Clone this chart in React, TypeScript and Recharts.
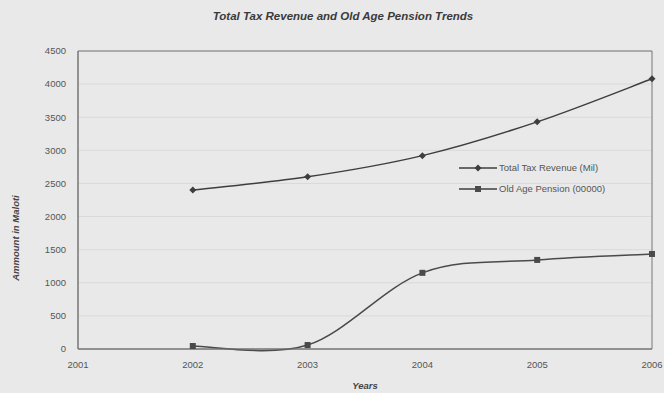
import React from "react";
import {
  LineChart,
  Line,
  XAxis,
  YAxis,
  CartesianGrid,
  Legend,
  Label,
  ReferenceArea,
} from "recharts";

// values
const years = [2002, 2003, 2004, 2005, 2006];
const taxRevenue = [2400, 2600, 2920, 3430, 4080];
const oldAgePension = [45, 60, 1150, 1345, 1435];

const xTicks = [2001, 2002, 2003, 2004, 2005, 2006];
const yTicks = [0, 500, 1000, 1500, 2000, 2500, 3000, 3500, 4000, 4500];

const taxName = "Total Tax  Revenue (Mil)";
const pensionName = "Old Age Pension (00000)";

const data = years.map((year, i) => ({
  year,
  tax: taxRevenue[i],
  pension: oldAgePension[i],
}));

const FONT = '"Liberation Sans", Arial, sans-serif';
const LINE_COLOR = "#3e3e3e";

// spreadsheet-style smoothed line (catmull-rom through the points)
const smoothCurve = (context: any) => {
  let pts: number[][] = [];
  return {
    areaStart() {},
    areaEnd() {},
    lineStart() {
      pts = [];
    },
    point(x: number, y: number) {
      pts.push([+x, +y]);
    },
    lineEnd() {
      if (!pts.length) return;
      context.moveTo(pts[0][0], pts[0][1]);
      for (let i = 0; i < pts.length - 1; i++) {
        const p0 = pts[i - 1] || pts[i];
        const p1 = pts[i];
        const p2 = pts[i + 1];
        const p3 = pts[i + 2] || pts[i + 1];
        context.bezierCurveTo(
          p1[0] + (p2[0] - p0[0]) / 6,
          p1[1] + (p2[1] - p0[1]) / 6,
          p2[0] - (p3[0] - p1[0]) / 6,
          p2[1] - (p3[1] - p1[1]) / 6,
          p2[0],
          p2[1]
        );
      }
    },
  };
};

// diamond marker for tax revenue
const DiamondDot = (props: any) => {
  const { cx, cy, index } = props;
  if (cx == null || cy == null) return <g key={`d-${index}`} />;
  const r = 3.5;
  return (
    <polygon
      key={`d-${index}`}
      points={`${cx},${cy - r} ${cx + r},${cy} ${cx},${cy + r} ${cx - r},${cy}`}
      fill={LINE_COLOR}
    />
  );
};

// square marker for the pension line
const SquareDot = (props: any) => {
  const { cx, cy, index } = props;
  if (cx == null || cy == null) return <g key={`s-${index}`} />;
  const s = 6;
  return (
    <rect
      key={`s-${index}`}
      x={cx - s / 2}
      y={cy - s / 2}
      width={s}
      height={s}
      fill="#4a4a4a"
    />
  );
};

const renderLegend = () => {
  const rows = [
    { name: taxName, shape: "diamond" },
    { name: pensionName, shape: "square" },
  ];
  return (
    <div style={{ fontFamily: FONT, fontSize: 9.5, color: "#555" }}>
      {rows.map((r) => (
        <div
          key={r.name}
          style={{ display: "flex", alignItems: "center", height: 21 }}
        >
          <svg width={38} height={10} style={{ marginRight: 2 }}>
            <line x1={0} y1={5} x2={38} y2={5} stroke={LINE_COLOR} strokeWidth={1.5} />
            {r.shape === "diamond" ? (
              <polygon points="19,1.5 22.5,5 19,8.5 15.5,5" fill={LINE_COLOR} />
            ) : (
              <rect x={16} y={2} width={6} height={6} fill="#4a4a4a" />
            )}
          </svg>
          <span>{r.name}</span>
        </div>
      ))}
    </div>
  );
};

const YTitle = () => {
  const x = 16;
  const y = 238;
  return (
    <text
      x={x}
      y={y}
      transform={`rotate(-90, ${x}, ${y})`}
      textAnchor="middle"
      dominantBaseline="middle"
      fontFamily={FONT}
      fontSize={9.5}
      fontWeight="bold"
      fontStyle="italic"
      fill="#444"
    >
      Ammount in Maloti
    </text>
  );
};

export default function App() {
  return (
    <div
      style={{
        position: "absolute",
        left: 0,
        top: 0,
        width: 664,
        height: 393,
        background: "#e9e9e9",
        fontFamily: FONT,
      }}
    >
      <div
        style={{
          position: "absolute",
          top: 10,
          left: 0,
          width: 686,
          textAlign: "center",
          fontFamily: FONT,
          fontSize: 11.5,
          fontWeight: "bold",
          fontStyle: "italic",
          color: "#3a3a3a",
        }}
      >
        Total Tax Revenue and Old Age Pension Trends
      </div>
      <LineChart
        width={664}
        height={393}
        data={data}
        margin={{ top: 51, right: 12, bottom: 0, left: 0 }}
        style={{ fontFamily: FONT }}
      >
        <CartesianGrid vertical={false} stroke="#d9d9d9" />
        <XAxis
          dataKey="year"
          type="number"
          domain={[2001, 2006]}
          ticks={xTicks}
          height={44}
          tickLine={false}
          tickMargin={6}
          axisLine={{ stroke: "#777" }}
          tick={{ fill: "#555", fontSize: 9.5 }}
        >
          <Label
            value="Years"
            position="insideBottom"
            offset={4}
            fill="#444"
            fontSize={9.5}
            fontWeight="bold"
            fontStyle="italic"
          />
        </XAxis>
        <YAxis
          width={78}
          domain={[0, 4500]}
          ticks={yTicks}
          tickLine={false}
          tickMargin={6}
          axisLine={{ stroke: "#777" }}
          tick={{ fill: "#555", fontSize: 9.5 }}
        >
          <Label content={<YTitle />} />
        </YAxis>
        <ReferenceArea
          x1={2001}
          x2={2006}
          y1={0}
          y2={4500}
          fill="none"
          stroke="#777"
          strokeWidth={1}
          ifOverflow="visible"
        />
        <Legend
          layout="horizontal"
          verticalAlign="middle"
          align="center"
          wrapperStyle={{ left: 459, top: 157, width: 190 }}
          content={renderLegend}
        />
        <Line
          type={smoothCurve as any}
          dataKey="tax"
          name={taxName}
          stroke={LINE_COLOR}
          strokeWidth={1.5}
          dot={DiamondDot}
          isAnimationActive={false}
        />
        <Line
          type={smoothCurve as any}
          dataKey="pension"
          name={pensionName}
          stroke="#4a4a4a"
          strokeWidth={1.5}
          dot={SquareDot}
          isAnimationActive={false}
        />
      </LineChart>
    </div>
  );
}
